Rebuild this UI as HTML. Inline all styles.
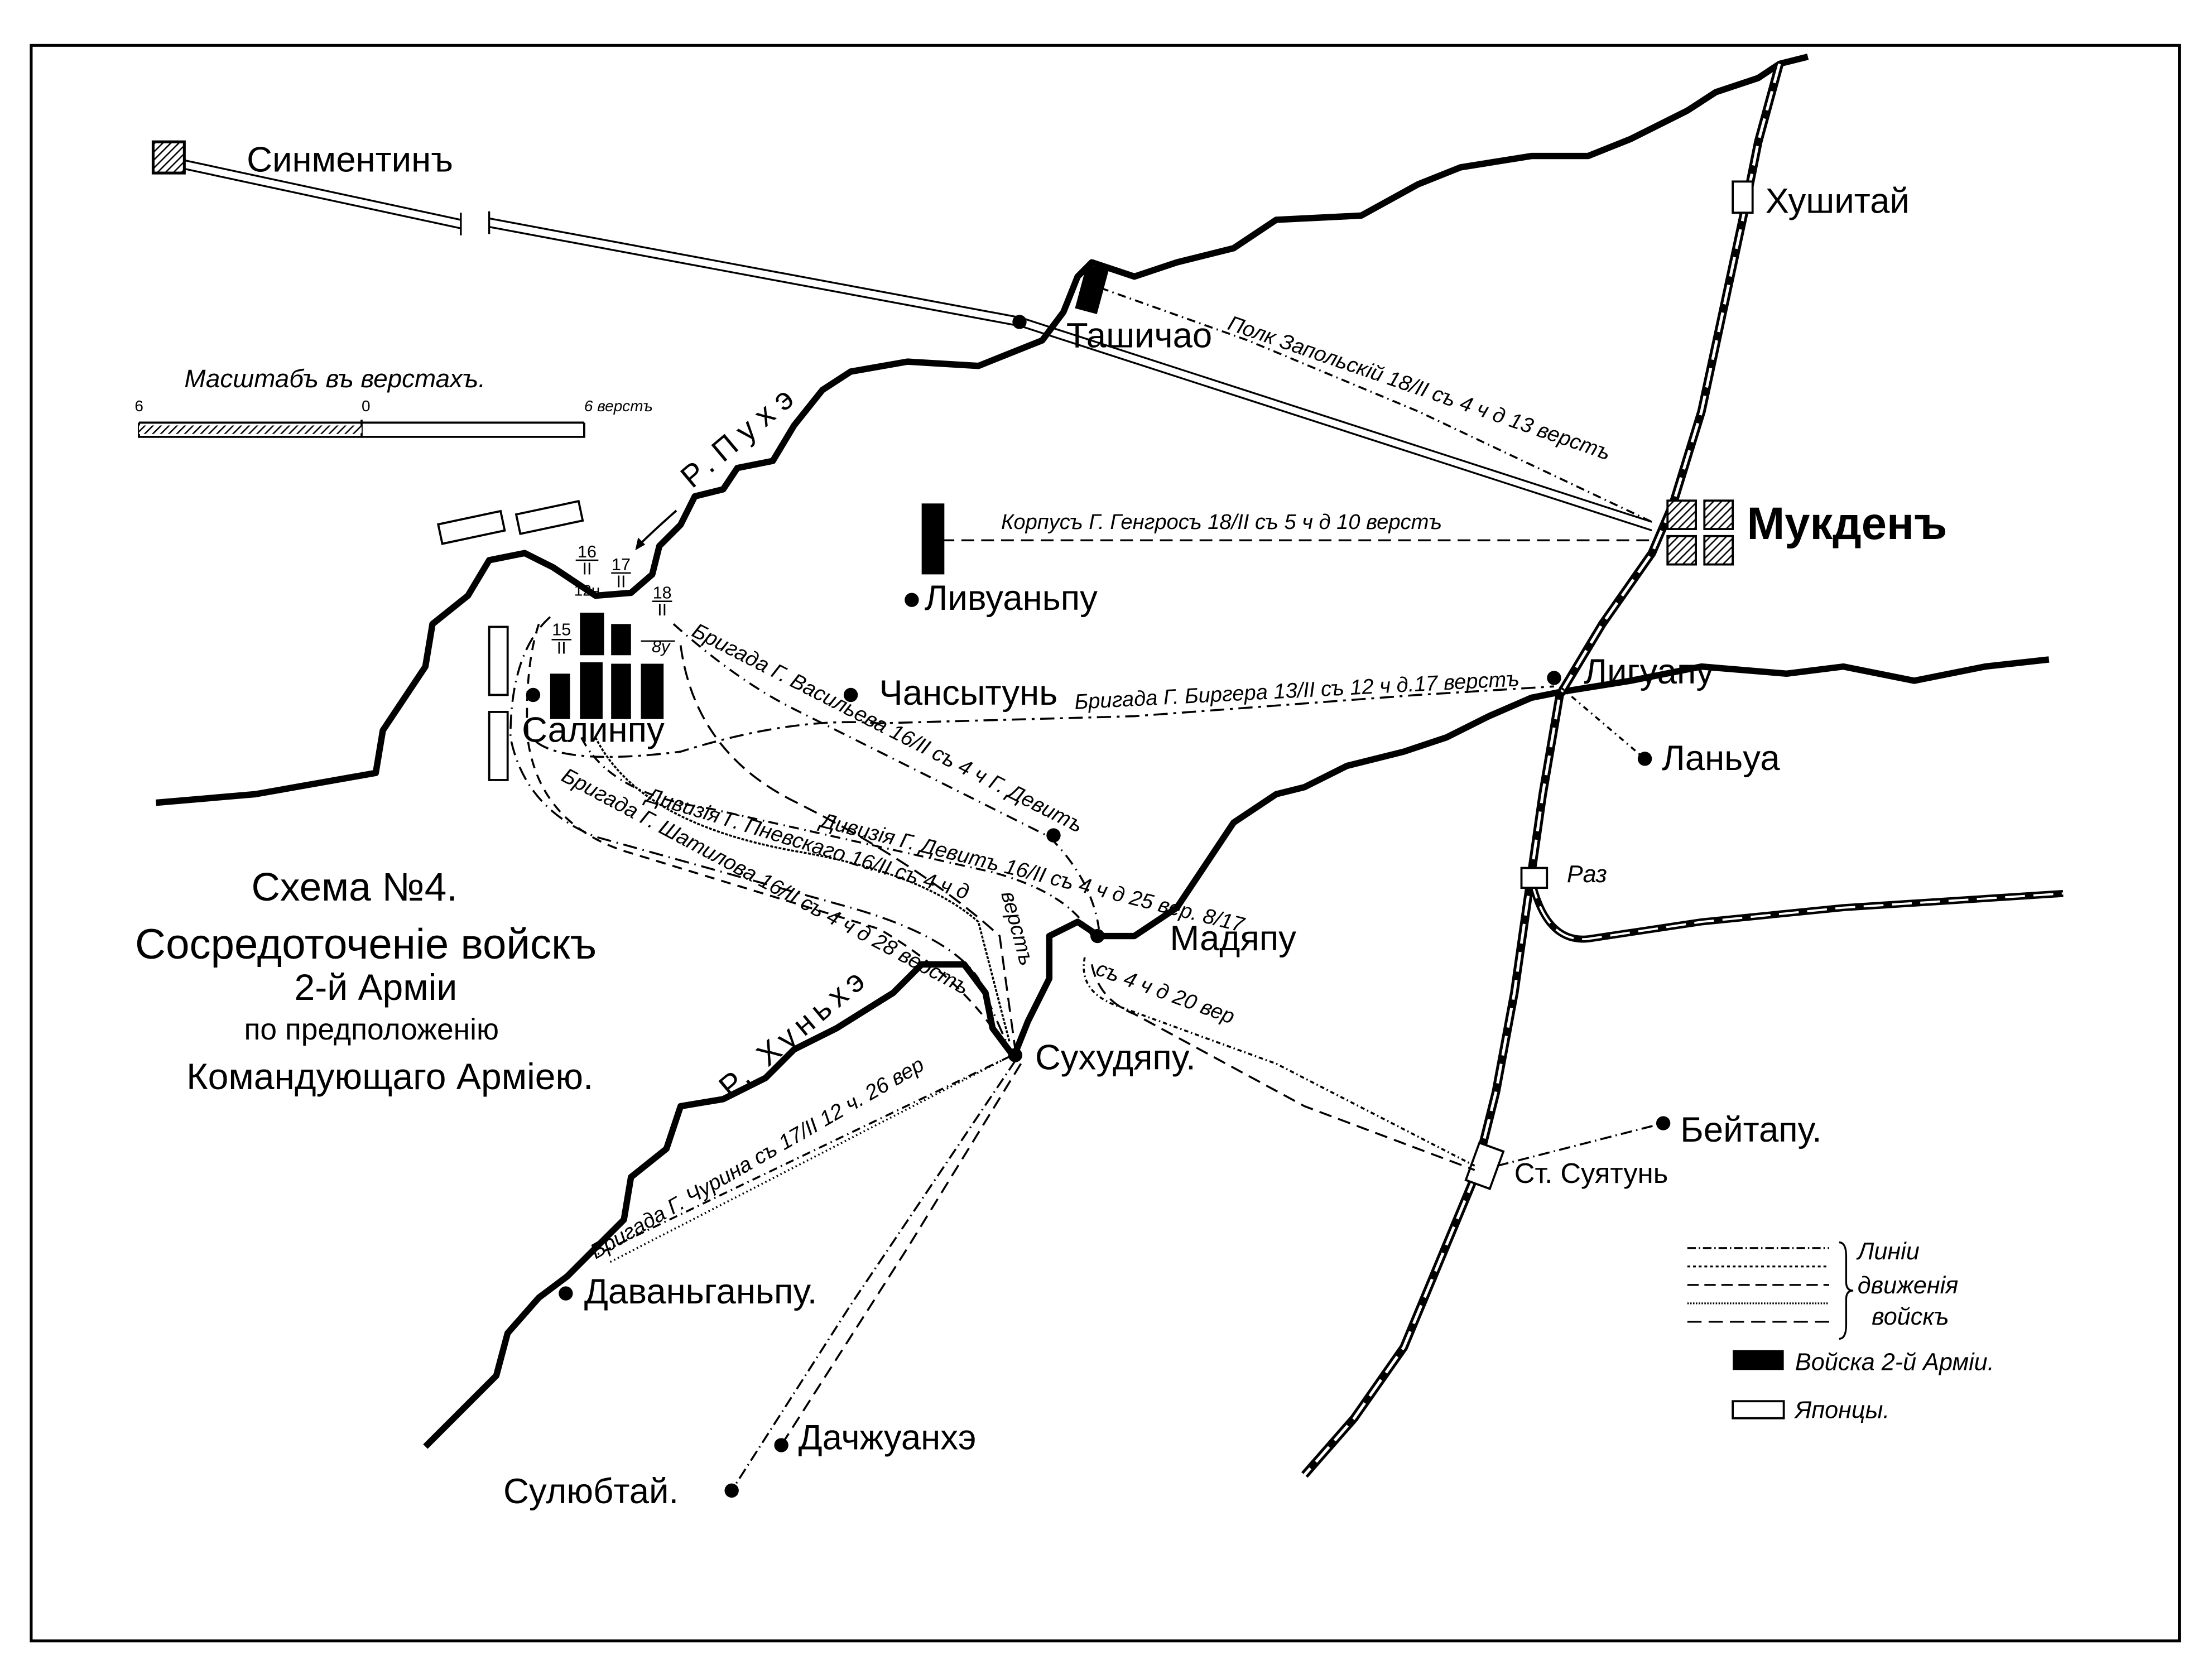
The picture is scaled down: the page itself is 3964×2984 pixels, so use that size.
<!DOCTYPE html>
<html><head><meta charset="utf-8"><style>
html,body{margin:0;padding:0;background:#fff}
svg{display:block}
text{font-family:"Liberation Sans",sans-serif;fill:#000}
.pl{font-size:25px}
.it{font-size:15px;font-style:italic}
</style></head><body>
<svg width="3964" height="2984" viewBox="0 0 1560 1174" preserveAspectRatio="none" xmlns="http://www.w3.org/2000/svg">
<defs>
<pattern id="h" width="4" height="4" patternUnits="userSpaceOnUse" patternTransform="rotate(45)"><rect width="4" height="4" fill="#fff"/><line x1="0" y1="0" x2="0" y2="4" stroke="#000" stroke-width="2"/></pattern>
</defs>
<rect x="22" y="32" width="1515" height="1125" fill="none" stroke="#000" stroke-width="2"/>
<!-- road -->
<g fill="none" stroke="#000" stroke-width="1.3">
<path d="M130,113 L325,155 M345,154 L720,224 L1165,368"/>
<path d="M130,119 L325,161 M345,160 L720,230 L1165,374"/>
<path d="M325,150 L325,166 M345,149 L345,165"/>
</g>
<!-- rivers -->
<g fill="none" stroke="#000" stroke-width="4.5" stroke-linejoin="round">
<path d="M110,566 L180,560 L265,545 L270,515 L300,470 L305,440 L330,420 L345,395 L370,390 L390,400 L405,410 L420,420 L445,418 L460,405 L465,385 L480,370 L490,350 L510,345 L520,330 L545,325 L560,300 L580,275 L600,262 L640,255 L690,258 L710,250 L735,240 L750,220 L760,195 L770,185 L800,195 L830,185 L870,175 L900,155 L960,152 L1000,130 L1030,118 L1080,110 L1120,110 L1150,98 L1190,78 L1210,65 L1240,55 L1255,45 L1275,40"/>
<path d="M300,1020 L330,990 L350,970 L358,940 L380,915 L400,900 L420,880 L440,860 L445,830 L470,810 L480,780 L510,775 L540,760 L560,740 L590,725 L630,700 L650,680 L680,680 L695,700 L700,725 L715,745 L725,720 L740,690 L740,660 L760,650 L775,660 L800,660 L830,640 L850,610 L870,580 L900,560 L920,555 L950,540 L990,530 L1020,520 L1050,505 L1080,492 L1100,488 L1150,480 L1200,470 L1260,475 L1300,470 L1350,480 L1400,470 L1445,465"/>
</g>
<!-- railways -->
<g fill="none" stroke="#000">
<path d="M1255,45 L1240,100 L1230,150 L1215,220 L1200,290 L1180,355 L1165,390 L1130,440 L1100,490 L1088,560 L1078,630 L1068,700 L1055,770 L1040,830 L1015,890 L990,950 L955,1000 L920,1040" stroke-width="6"/>
<path d="M1255,45 L1240,100 L1230,150 L1215,220 L1200,290 L1180,355 L1165,390 L1130,440 L1100,490 L1088,560 L1078,630 L1068,700 L1055,770 L1040,830 L1015,890 L990,950 L955,1000 L920,1040" stroke="#fff" stroke-width="2" stroke-dasharray="14 6"/>
<path d="M1080,620 Q1090,665 1120,662 L1200,650 L1300,640 L1455,630" stroke-width="5"/>
<path d="M1080,620 Q1090,665 1120,662 L1200,650 L1300,640 L1455,630" stroke="#fff" stroke-width="1.5" stroke-dasharray="14 6"/>
</g>
<rect x="1222" y="128" width="14" height="22" fill="#fff" stroke="#000" stroke-width="1.5"/>
<rect x="1073" y="612" width="18" height="14" fill="#fff" stroke="#000" stroke-width="1.5"/>
<rect x="1038" y="808" width="18" height="28" fill="#fff" stroke="#000" stroke-width="1.5" transform="rotate(20 1047 822)"/>
<!-- places -->
<rect x="108" y="100" width="22" height="22" fill="url(#h)" stroke="#000" stroke-width="2"/>
<text x="174" y="121" class="pl">Синментинъ</text>
<text x="1245" y="150" class="pl">Хушитай</text>
<circle cx="719" cy="227" r="5"/>
<rect x="762" y="188" width="16" height="32" transform="rotate(15 770 204)"/>
<text x="752" y="245" class="pl">Ташичао</text>
<g fill="url(#h)" stroke="#000" stroke-width="1.5">
<rect x="1176" y="353" width="20" height="20"/><rect x="1202" y="353" width="20" height="20"/>
<rect x="1176" y="378" width="20" height="20"/><rect x="1202" y="378" width="20" height="20"/>
</g>
<text x="1232" y="380" style="font-size:32px;font-weight:bold">Мукденъ</text>
<rect x="650" y="355" width="16" height="50"/>
<circle cx="643" cy="423" r="5"/><text x="652" y="430" class="pl">Ливуаньпу</text>
<circle cx="600" cy="490" r="5"/><text x="620" y="497" class="pl">Чансытунь</text>
<circle cx="1096" cy="478" r="5"/><text x="1117" y="482" class="pl">Лигуапу</text>
<circle cx="1160" cy="535" r="5"/><text x="1172" y="543" class="pl">Ланьуа</text>
<text x="1105" y="622" class="it" style="font-size:17px">Раз</text>
<circle cx="743" cy="589" r="5"/>
<circle cx="774" cy="660" r="5"/><text x="825" y="670" class="pl">Мадяпу</text>
<circle cx="716" cy="744" r="5"/><text x="730" y="754" class="pl">Сухудяпу.</text>
<circle cx="1173" cy="792" r="5"/><text x="1185" y="805" class="pl">Бейтапу.</text>
<text x="1068" y="834" class="pl" style="font-size:20px">Ст. Суятунь</text>
<circle cx="399" cy="912" r="5"/><text x="412" y="919" class="pl">Даваньганьпу.</text>
<circle cx="551" cy="1019" r="5"/><text x="563" y="1022" class="pl">Дачжуанхэ</text>
<circle cx="516" cy="1051" r="5"/><text x="355" y="1060" class="pl">Сулюбтай.</text>
<circle cx="376" cy="490" r="5"/><text x="368" y="523" class="pl">Салинпу</text>
<!-- Japanese -->
<g fill="#fff" stroke="#000" stroke-width="1.5">
<rect x="310" y="365" width="45" height="14" transform="rotate(-12 332 372)"/>
<rect x="365" y="358" width="45" height="14" transform="rotate(-12 387 365)"/>
<rect x="345" y="442" width="13" height="48"/>
<rect x="345" y="502" width="13" height="48"/>
</g>
<!-- Russian units -->
<rect x="409" y="432" width="17" height="30"/><rect x="431" y="440" width="14" height="22"/>
<rect x="388" y="475" width="14" height="32"/><rect x="409" y="467" width="16" height="40"/><rect x="431" y="468" width="14" height="39"/><rect x="452" y="468" width="16" height="39"/>
<g font-size="12" text-anchor="middle">
<text x="414" y="393">16</text><text x="414" y="405">II</text><text x="414" y="420" font-size="11">12н</text>
<text x="438" y="402">17</text><text x="438" y="414">II</text>
<text x="467" y="422">18</text><text x="467" y="434">II</text>
<text x="396" y="448">15</text><text x="396" y="461">II</text>
<text x="466" y="460" font-style="italic">8у</text>
</g>
<g stroke="#000" stroke-width="1"><path d="M406,395h16M431,404h14M460,424h14M389,451h14M452,452h24"/></g>
<!-- arrow -->
<path d="M477,360 Q460,375 450,385" fill="none" stroke="#000" stroke-width="1.5"/><path d="M448,388 l2,-9 l5,5z"/>
<!-- movement lines -->
<g fill="none" stroke="#000" stroke-width="1.4">
<path d="M664,381 L1165,381" stroke-dasharray="9 5"/>
<path d="M776,203 L880,240 L1000,290 L1165,368" stroke-dasharray="6 3 1 3"/>
<path d="M378,523 Q400,540 480,530 Q560,505 620,510 L800,505 L1000,490 L1096,484" stroke-dasharray="10 4 2 4"/>
<path d="M1100,484 L1160,535" stroke-dasharray="4 3 1 3"/>
<path d="M475,440 Q520,480 560,500 L740,590 Q770,620 775,655" stroke-dasharray="8 4 1 4"/>
<path d="M480,455 Q490,530 560,565 Q650,610 705,660 L716,740" stroke-dasharray="10 5"/>
<path d="M410,520 Q430,560 500,570 L700,615 Q755,630 770,660" stroke-dasharray="7 4 1 3"/>
<path d="M420,520 Q450,580 560,600 Q650,615 690,650 L712,735" stroke-dasharray="2 1"/>
<path d="M388,435 Q360,460 360,520 Q370,570 420,590 L600,640 Q670,660 690,690 L712,740" stroke-dasharray="10 4 1 4"/>
<path d="M380,440 Q370,470 372,520 Q380,580 440,600 L620,655 Q680,690 710,740" stroke-dasharray="7 5"/>
<path d="M765,675 Q760,700 790,710 L900,750 L1040,822" stroke-dasharray="3 2 1 2"/>
<path d="M770,680 Q775,705 800,715 L920,780 L1040,825" stroke-dasharray="9 5"/>
<path d="M1056,822 L1173,792" stroke-dasharray="8 3 1 3"/>
<path d="M712,745 L420,885" stroke-dasharray="6 3 1 3"/>
<path d="M706,748 L430,890" stroke-dasharray="1 2"/>
<path d="M716,748 L600,920 L516,1051" stroke-dasharray="8 3 1 3"/>
<path d="M720,750 L640,880 L551,1019" stroke-dasharray="9 5"/>
</g>
<!-- route labels -->
<text class="it" transform="translate(865,232) rotate(19)">Полк Запольскій 18/II съ 4 ч д 13 верстъ</text>
<text class="it" x="706" y="373">Корпусъ Г. Генгросъ 18/II съ 5 ч д 10 верстъ</text>
<text class="it" transform="translate(758,500) rotate(-3)">Бригада Г. Биргера 13/II съ 12 ч д.17 верстъ</text>
<text class="it" transform="translate(487,448) rotate(27)">Бригада Г. Васильева 16/II съ 4 ч Г. Девитъ</text>
<text class="it" transform="translate(578,583) rotate(14)">Дивизія Г. Девитъ 16/II съ 4 ч д 25 вер. 8/17</text>
<text class="it" transform="translate(455,565) rotate(17)">Дивизія Г. Пневскаго 16/II съ 4 ч д</text>
<text class="it" transform="translate(395,550) rotate(28)">Бригада Г. Шатилова 16/II съ 4 ч д 28 верстъ</text>
<text class="it" transform="translate(706,630) rotate(75)">верстъ</text>
<text class="it" transform="translate(772,687) rotate(20)">съ 4 ч д 20 вер</text>
<text class="it" transform="translate(420,888) rotate(-30)">Бригада Г. Чурина съ 17/II 12 ч. 26 вер</text>
<text transform="translate(488,345) rotate(-40)" style="font-size:22px;letter-spacing:6px">Р.Пухэ</text>
<text transform="translate(515,775) rotate(-40)" style="font-size:22px;letter-spacing:4px">Р. Хуньхэ</text>
<!-- scale -->
<text class="it" x="130" y="273" style="font-size:18px">Масштабъ въ верстахъ.</text>
<g stroke="#000" stroke-width="1.5" fill="none"><path d="M98,298 L98,308 L412,308 L412,298 M98,298 L412,298"/><path d="M255,296 v12"/></g>
<rect x="98" y="300" width="157" height="6" fill="url(#h)"/>
<text x="95" y="290" font-size="11">6</text><text x="255" y="290" font-size="11">0</text><text x="412" y="290" font-size="11" font-style="italic">6 верстъ</text>
<!-- title -->
<g text-anchor="middle">
<text x="250" y="635" style="font-size:28px">Схема №4.</text>
<text x="258" y="676" style="font-size:30px">Сосредоточеніе войскъ</text>
<text x="265" y="705" style="font-size:26px">2-й Арміи</text>
<text x="262" y="733" style="font-size:21px">по предположенію</text>
<text x="275" y="768" style="font-size:26px">Командующаго Арміею.</text>
</g>
<!-- legend -->
<g fill="none" stroke="#000" stroke-width="1.3">
<path d="M1190,880 H1290" stroke-dasharray="6 2 1 2"/>
<path d="M1190,893 H1290" stroke-dasharray="2 2"/>
<path d="M1190,906 H1290" stroke-dasharray="8 4"/>
<path d="M1190,919 H1290" stroke-dasharray="1 1"/>
<path d="M1190,932 H1290" stroke-dasharray="10 5"/>
<path d="M1297,876 q5,0 5,10 v18 q0,6 5,6 q-5,0 -5,6 v18 q0,10 -5,10"/>
</g>
<text class="it" x="1310" y="888" style="font-size:17px">Линіи</text>
<text class="it" x="1310" y="912" style="font-size:17px">движенія</text>
<text class="it" x="1320" y="934" style="font-size:17px">войскъ</text>
<rect x="1222" y="952" width="36" height="14"/>
<text class="it" x="1266" y="966" style="font-size:17px">Войска 2-й Арміи.</text>
<rect x="1222" y="988" width="36" height="12" fill="none" stroke="#000" stroke-width="1.5"/>
<text class="it" x="1266" y="1000" style="font-size:17px">Японцы.</text>
</svg>
</body></html>
